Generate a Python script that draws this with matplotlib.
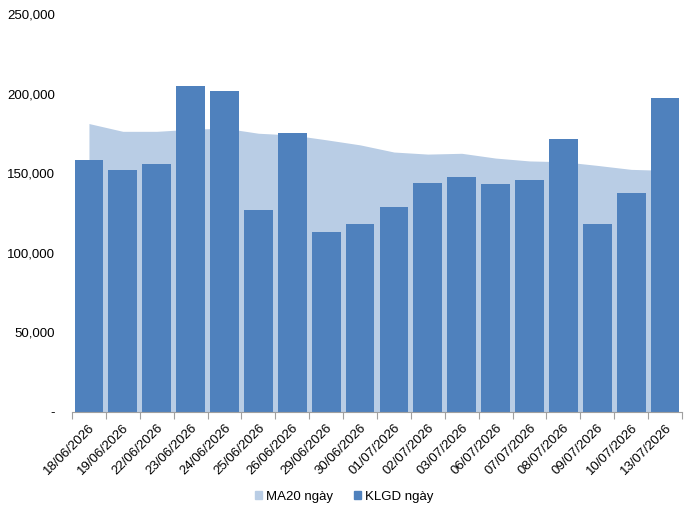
import matplotlib
matplotlib.use("Agg")
import matplotlib.pyplot as plt
from matplotlib.patches import Patch
import numpy as np

plt.rcParams['font.family'] = ['Liberation Sans', 'DejaVu Sans']

dates = ["18/06/2026", "19/06/2026", "22/06/2026", "23/06/2026", "24/06/2026",
         "25/06/2026", "26/06/2026", "29/06/2026", "30/06/2026", "01/07/2026",
         "02/07/2026", "03/07/2026", "06/07/2026", "07/07/2026", "08/07/2026",
         "09/07/2026", "10/07/2026", "13/07/2026"]
klgd = [158000, 152000, 156000, 205000, 201500, 126700, 175000, 112900, 117900,
        128500, 143600, 147300, 143000, 145500, 171200, 117900, 137300, 197000]
ma20 = [181200, 176300, 176300, 177600, 178300, 175100, 174000, 171000, 167800,
        163300, 162000, 162500, 159500, 157700, 157200, 154900, 152400, 151800]
yticks = [0, 50000, 100000, 150000, 200000, 250000]

bar_color = "#4F81BD"
area_color = "#B9CDE5"

fig = plt.figure(figsize=(6.88, 5.13), dpi=100)
ax = fig.add_axes([72/688, 1-412/513, 610/688, 398/513])

x = np.arange(len(dates))
ax.fill_between(x, 0, ma20, color=area_color, linewidth=0, zorder=1)
ax.bar(x, klgd, width=0.85, color=bar_color, zorder=2)

ax.set_xlim(-0.5, len(dates) - 0.5)
ax.set_ylim(0, 250000)
ax.set_yticks(yticks)
ax.set_yticklabels(["-" if v == 0 else f"{v:,}" for v in yticks], fontsize=9.5)
ax.tick_params(axis='y', length=0, pad=12)

ax.set_xticks(x)
ax.set_xticklabels(dates, rotation=45, ha='right', rotation_mode='anchor', fontsize=9.5)
ax.tick_params(axis='x', length=0, pad=7)
ax.set_xticks(np.arange(-0.5, len(dates)), minor=True)
ax.tick_params(axis='x', which='minor', length=5, color="#A0A0A0", width=0.8)

for s in ['top', 'right', 'left']:
    ax.spines[s].set_visible(False)
ax.spines['bottom'].set_color("#A0A0A0")
ax.spines['bottom'].set_linewidth(0.8)

handles = [Patch(color=area_color, label="MA20 ngày"), Patch(color=bar_color, label="KLGD ngày")]
fig.legend(handles=handles, loc='center', bbox_to_anchor=(0.5, 1-497/513), ncol=2,
           frameon=False, fontsize=9.5, handlelength=0.55, handleheight=0.55,
           handletextpad=0.3, columnspacing=1.6)

fig.savefig("out.png", dpi=100)
